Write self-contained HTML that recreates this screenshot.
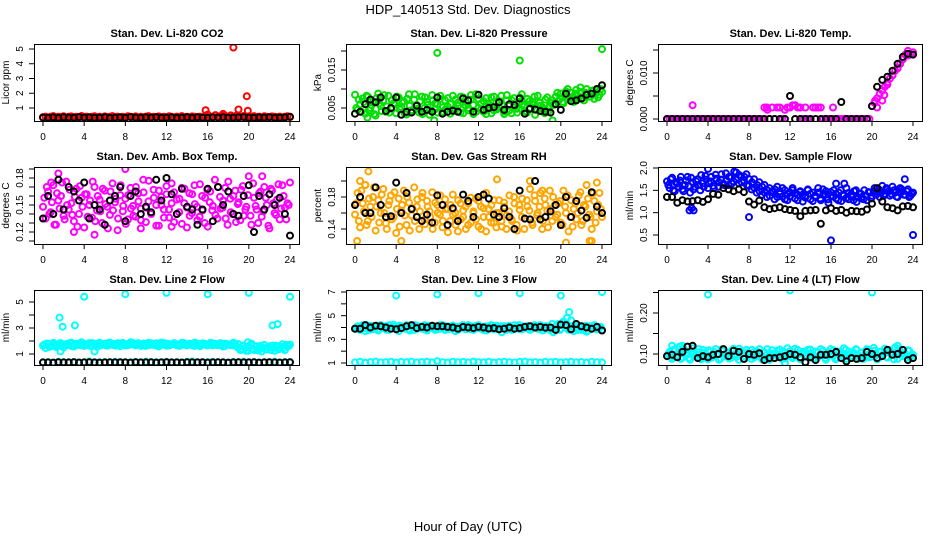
<!DOCTYPE html>
<html><head><meta charset="utf-8"><style>
html,body{margin:0;padding:0;background:#fff}
svg{display:block;font-family:"Liberation Sans",Arial,sans-serif}
</style></head><body>
<svg id="chart" width="936" height="540" viewBox="0 0 936 540">
<text x="468" y="14" text-anchor="middle" font-size="13">HDP_140513  Std. Dev. Diagnostics</text>
<text x="468" y="531" text-anchor="middle" font-size="13">Hour of Day (UTC)</text>
</svg>
<script>
const xTickLabels = [0,4,8,12,16,20,24];

const co2Color = [0.38,0.42,0.35,0.40,0.45,0.37,0.41,0.39,0.44,0.36,0.40,0.43,0.38,0.41,0.35,0.46,0.39,0.42,0.37,0.40,0.44,0.38,0.41,0.36,0.43,0.39,0.40,0.45,0.37,0.42,0.38,0.41,0.36,0.44,0.40,0.39,0.43,0.37,0.41,0.38,0.42,0.45,0.36,0.40,0.39,0.43,0.38,0.41,0.37,0.44,0.40,0.36,0.42,0.39,0.45,0.38,0.41,0.37,0.43,0.40,0.39,0.42,0.36,0.44,0.55,0.41,0.38,0.52,0.43,0.40,0.48,0.45,0.39,0.50,0.42,0.47,0.44,0.40,0.46,0.38,0.43,0.41,0.45,0.39,0.42,0.37,0.44,0.40,0.38,0.43,0.41,0.39,0.42,0.37,0.40,0.44,0.38];
const co2OutT = [15.8,18.5,19.0,19.8,19.9,17.5];
const co2OutV = [0.85,5.1,0.9,1.8,0.82,0.6];
const co2Black = [0.35,0.34,0.36,0.33,0.37,0.35,0.34,0.38,0.35,0.36,0.34,0.35,0.37,0.33,0.35,0.36,0.34,0.38,0.35,0.34,0.36,0.35,0.37,0.34,0.35,0.36,0.33,0.35,0.37,0.34,0.36,0.35,0.34,0.36,0.35,0.37,0.34,0.35,0.36,0.38,0.35,0.34,0.36,0.35,0.37,0.34,0.35,0.36,0.40];

const presColor = [0.0085,0.0045,0.0060,0.0075,0.0035,0.0080,0.0050,0.0065,0.0030,0.0088,0.0055,0.0070,0.0040,0.0082,0.0048,0.0062,0.0036,0.0078,0.0052,0.0068,0.0033,0.0086,0.0044,0.0072,0.0058,0.0038,0.0080,0.0050,0.0066,0.0032,0.0084,0.0046,0.0060,0.0074,0.0040,0.0070,0.0054,0.0035,0.0082,0.0048,0.0064,0.0038,0.0078,0.0056,0.0044,0.0072,0.0034,0.0086,0.0050,0.0062,0.0040,0.0076,0.0054,0.0036,0.0080,0.0046,0.0068,0.0058,0.0034,0.0084,0.0044,0.0070,0.0052,0.0038,0.0078,0.0060,0.0042,0.0074,0.0050,0.0066,0.0032,0.0082,0.0056,0.0046,0.0072,0.0040,0.0064,0.0058,0.0080,0.0068,0.0088,0.0062,0.0094,0.0072,0.0090,0.0066,0.0098,0.0076,0.0092,0.0070,0.0100,0.0080,0.0095,0.0074,0.0098,0.0085,0.0092];
const presColor2 = [0.0050,0.0072,0.0040,0.0066,0.0082,0.0044,0.0058,0.0034,0.0076,0.0062,0.0042,0.0084,0.0054,0.0038,0.0070,0.0060,0.0080,0.0046,0.0064,0.0036,0.0074,0.0056,0.0040,0.0086,0.0048,0.0068,0.0034,0.0078,0.0058,0.0044,0.0070,0.0062,0.0038,0.0082,0.0052,0.0046,0.0076,0.0060,0.0042,0.0072,0.0056,0.0080,0.0036,0.0066,0.0050,0.0084,0.0058,0.0040,0.0074,0.0046,0.0068,0.0034,0.0060,0.0078,0.0044,0.0064,0.0052,0.0082,0.0040,0.0070,0.0056,0.0036,0.0076,0.0048,0.0066,0.0086,0.0054,0.0038,0.0068,0.0060,0.0080,0.0044,0.0064,0.0052,0.0036,0.0078,0.0056,0.0070,0.0062,0.0090,0.0074,0.0066,0.0084,0.0100,0.0078,0.0070,0.0088,0.0082,0.0104,0.0076,0.0090,0.0086,0.0080,0.0096,0.0088,0.0078,0.0100];
const presOutT = [8,16,24,7.7,19.2,1.2];
const presOutV = [0.0195,0.0175,0.0205,0.0017,0.0017,0.0025];
const presBlack = [0.0035,0.0040,0.0060,0.0072,0.0065,0.0078,0.0042,0.0050,0.0078,0.0032,0.0040,0.0038,0.0056,0.0040,0.0045,0.0040,0.0078,0.0035,0.0040,0.0043,0.0040,0.0075,0.0070,0.0040,0.0085,0.0045,0.0050,0.0052,0.0065,0.0045,0.0060,0.0058,0.0075,0.0035,0.0048,0.0046,0.0042,0.0040,0.0038,0.0060,0.0045,0.0088,0.0068,0.0070,0.0075,0.0085,0.0088,0.0100,0.0110];

const tempColor = [0,0,0,0,0,0,0,0,0,0,0,0,0,0,0,0,0,0,0,0,0,0,0,0,0,0,0,0,0,0,0,0,0,0,0,0,0,0,0.0025,0.0025,0,0.0025,0,0.0025,0.0025,0,0.0020,0.0025,0.0025,0.0030,0.0030,0.0025,0.0025,0,0.0025,0,0,0.0025,0.0025,0.0025,0.0025,0,0,0,0,0,0,0,0,0,0,0,0,0,0,0,0,0,0,0,0.0028,0.0035,0.0045,0.0055,0.0062,0.0070,0.0080,0.0088,0.0095,0.0105,0.0112,0.0120,0.0130,0.0140,0.0148,0.0140,0.0145];
const tempOutT = [2.5,20.5,21,21.5,22,22.5,23,23.5,20.3,21.2,9.8,16.2];
const tempOutV = [0.003,0.0025,0.0040,0.0075,0.0095,0.0110,0.0130,0.0138,0.004,0.0052,0.0020,0.0025];
const tempBlack = [0,0,0,0,0,0,0,0,0,0,0,0,0,0,0,0,0,0,0,0,0,0,0,0,0.005,0,0,0,0,0,0,0,0,0,0.0037,0,0,0,0,0,0.0028,0.0070,0.0085,0.0092,0.0105,0.0120,0.0135,0.0142,0.0140];

const ambColor = [0.148,0.135,0.165,0.142,0.172,0.128,0.155,0.160,0.138,0.176,0.145,0.152,0.132,0.168,0.140,0.158,0.125,0.162,0.150,0.136,0.170,0.144,0.156,0.130,0.166,0.148,0.139,0.174,0.153,0.122,0.161,0.143,0.157,0.134,0.169,0.149,0.137,0.163,0.146,0.178,0.131,0.154,0.141,0.167,0.150,0.127,0.159,0.145,0.171,0.136,0.152,0.164,0.140,0.157,0.129,0.168,0.147,0.138,0.162,0.151,0.133,0.173,0.144,0.158,0.126,0.165,0.149,0.139,0.170,0.146,0.155,0.135,0.176,0.142,0.160,0.131,0.153,0.167,0.138,0.148,0.182,0.128,0.158,0.145,0.163,0.137,0.170,0.150,0.124,0.166,0.141,0.156,0.134,0.172,0.147,0.152,0.175];
const ambColor2 = [0.158,0.170,0.140,0.153,0.128,0.163,0.146,0.175,0.134,0.150,0.167,0.139,0.159,0.126,0.171,0.148,0.162,0.137,0.155,0.176,0.132,0.160,0.143,0.168,0.151,0.124,0.165,0.144,0.157,0.135,0.172,0.149,0.129,0.161,0.146,0.138,0.170,0.154,0.133,0.164,0.147,0.177,0.140,0.158,0.127,0.166,0.150,0.136,0.162,0.145,0.174,0.131,0.156,0.142,0.169,0.152,0.125,0.163,0.141,0.172,0.148,0.137,0.160,0.130,0.167,0.153,0.144,0.178,0.135,0.159,0.147,0.169,0.128,0.157,0.140,0.166,0.151,0.133,0.171,0.145,0.161,0.138,0.174,0.149,0.130,0.165,0.143,0.158,0.127,0.168,0.152,0.139,0.173,0.146,0.160,0.134,0.150];
const ambOutT = [8.0,1.5,5.0,21.3,9.5,3.0,0.8,12.5];
const ambOutV = [0.19,0.185,0.117,0.182,0.124,0.12,0.175,0.126];
const ambBlack = [0.135,0.160,0.140,0.178,0.145,0.170,0.165,0.155,0.175,0.135,0.150,0.145,0.128,0.155,0.160,0.170,0.132,0.160,0.165,0.140,0.148,0.142,0.178,0.155,0.180,0.162,0.140,0.168,0.148,0.145,0.128,0.145,0.168,0.132,0.170,0.150,0.165,0.140,0.138,0.160,0.172,0.120,0.160,0.145,0.162,0.150,0.158,0.140,0.116];

const rhColor = [0.158,0.185,0.142,0.172,0.195,0.150,0.168,0.180,0.138,0.176,0.160,0.190,0.147,0.170,0.182,0.155,0.135,0.178,0.163,0.188,0.145,0.173,0.157,0.192,0.168,0.140,0.180,0.152,0.175,0.162,0.186,0.148,0.170,0.158,0.142,0.177,0.165,0.150,0.183,0.160,0.137,0.172,0.155,0.168,0.145,0.179,0.162,0.152,0.175,0.140,0.166,0.185,0.155,0.170,0.148,0.160,0.176,0.143,0.168,0.157,0.182,0.150,0.172,0.138,0.164,0.178,0.153,0.168,0.190,0.145,0.175,0.160,0.185,0.150,0.170,0.142,0.165,0.180,0.155,0.172,0.148,0.188,0.160,0.137,0.176,0.165,0.152,0.182,0.145,0.170,0.195,0.158,0.140,0.175,0.162,0.185,0.155];
const rhColor2 = [0.172,0.150,0.188,0.162,0.145,0.178,0.155,0.192,0.168,0.148,0.183,0.160,0.140,0.175,0.152,0.186,0.165,0.143,0.170,0.157,0.180,0.138,0.166,0.150,0.177,0.162,0.185,0.146,0.168,0.155,0.140,0.173,0.160,0.182,0.150,0.165,0.136,0.170,0.158,0.145,0.176,0.152,0.163,0.140,0.172,0.148,0.160,0.178,0.143,0.168,0.155,0.137,0.165,0.148,0.176,0.142,0.160,0.150,0.173,0.140,0.162,0.152,0.180,0.145,0.170,0.155,0.140,0.176,0.163,0.148,0.182,0.157,0.168,0.140,0.178,0.163,0.188,0.150,0.170,0.158,0.175,0.145,0.168,0.182,0.155,0.143,0.172,0.160,0.186,0.150,0.168,0.178,0.155,0.185,0.148,0.170,0.165];
const rhOutT = [0.2,1.3,1.0,18.2,20.5,4.5,13.8,17.0,23.5,22.8,23.0,0.5];
const rhOutV = [0.125,0.212,0.195,0.188,0.123,0.125,0.202,0.200,0.198,0.125,0.125,0.200];
const rhBlack = [0.170,0.180,0.160,0.160,0.192,0.170,0.155,0.156,0.198,0.160,0.185,0.165,0.155,0.150,0.158,0.148,0.182,0.170,0.145,0.166,0.150,0.183,0.175,0.155,0.180,0.183,0.178,0.158,0.155,0.166,0.155,0.140,0.188,0.153,0.152,0.200,0.152,0.155,0.162,0.170,0.145,0.180,0.155,0.175,0.163,0.154,0.186,0.168,0.160];

const flowColor = [1.70,1.55,1.78,1.48,1.65,1.72,1.52,1.62,1.80,1.45,1.68,1.58,1.75,1.50,1.66,1.82,1.55,1.70,1.60,1.85,1.58,1.74,1.65,1.88,1.62,1.78,1.70,1.90,1.66,1.80,1.72,1.86,1.60,1.52,1.75,1.45,1.68,1.40,1.62,1.35,1.55,1.48,1.30,1.58,1.42,1.36,1.50,1.28,1.45,1.55,1.32,1.40,1.48,1.25,1.38,1.52,1.30,1.45,1.35,1.55,1.28,1.42,1.48,1.22,1.38,1.50,1.32,1.45,1.26,1.40,1.55,1.30,1.36,1.48,1.24,1.42,1.35,1.50,1.28,1.45,1.38,1.55,1.48,1.35,1.60,1.42,1.52,1.38,1.58,1.45,1.35,1.55,1.48,1.40,1.52,1.38,1.45];
const flowColor2 = [1.62,1.75,1.50,1.68,1.58,1.80,1.48,1.72,1.60,1.78,1.52,1.70,1.62,1.84,1.58,1.74,1.66,1.80,1.55,1.76,1.68,1.86,1.62,1.72,1.80,1.65,1.92,1.74,1.84,1.68,1.80,1.62,1.75,1.68,1.55,1.62,1.48,1.58,1.45,1.50,1.38,1.46,1.52,1.35,1.48,1.55,1.30,1.42,1.36,1.50,1.44,1.28,1.46,1.40,1.34,1.50,1.42,1.26,1.38,1.45,1.32,1.52,1.40,1.30,1.46,1.36,1.42,1.28,1.50,1.38,1.32,1.44,1.40,1.28,1.50,1.34,1.42,1.30,1.38,1.46,1.32,1.48,1.40,1.52,1.45,1.38,1.55,1.48,1.42,1.50,1.36,1.46,1.52,1.40,1.48,1.35,1.42];
const flowOutT = [2.2,2.6,2.4,8.0,16.0,24.0,16.5,17.3,23.2,4.0];
const flowOutV = [1.05,1.05,1.1,0.9,0.38,0.5,1.65,1.65,1.75,1.98];
const flowBlack = [1.35,1.35,1.22,1.28,1.25,1.26,1.28,1.24,1.30,1.42,1.40,1.55,1.52,1.48,1.52,1.46,1.25,1.18,1.27,1.12,1.08,1.10,1.12,1.08,1.06,1.04,0.92,1.04,1.05,1.06,0.75,1.05,1.10,1.04,1.06,1.00,1.04,1.03,1.02,1.07,1.20,1.55,1.25,1.12,1.10,1.05,1.14,1.15,1.12];

const l2Color = [1.65,1.45,1.78,1.60,1.85,1.55,1.72,1.82,1.50,1.76,1.68,1.88,1.58,1.80,1.70,1.90,1.62,1.75,1.84,1.66,1.78,1.55,1.86,1.72,1.80,1.64,1.88,1.70,1.76,1.82,1.60,1.85,1.74,1.68,1.90,1.78,1.66,1.84,1.72,1.80,1.62,1.86,1.75,1.70,1.82,1.58,1.88,1.74,1.80,1.66,1.76,1.84,1.70,1.62,1.86,1.78,1.72,1.80,1.68,1.88,1.74,1.60,1.82,1.76,1.70,1.85,1.66,1.78,1.72,1.84,1.58,1.80,1.74,1.68,1.86,1.62,1.76,1.40,1.65,1.25,1.55,1.80,1.30,1.60,1.45,1.20,1.70,1.35,1.50,1.65,1.25,1.55,1.40,1.75,1.30,1.60,1.72];
const l2Color2 = [1.72,1.80,1.55,1.68,1.74,1.62,1.82,1.70,1.66,1.78,1.84,1.60,1.74,1.70,1.80,1.66,1.76,1.72,1.62,1.84,1.70,1.78,1.66,1.74,1.68,1.82,1.72,1.78,1.64,1.70,1.80,1.74,1.66,1.78,1.72,1.84,1.70,1.76,1.62,1.80,1.74,1.68,1.82,1.72,1.66,1.78,1.70,1.84,1.64,1.76,1.72,1.80,1.68,1.74,1.70,1.82,1.66,1.76,1.72,1.62,1.80,1.74,1.70,1.78,1.66,1.72,1.82,1.76,1.68,1.70,1.78,1.62,1.74,1.70,1.66,1.80,1.50,1.30,1.60,1.45,1.25,1.70,1.40,1.55,1.28,1.62,1.45,1.35,1.58,1.30,1.50,1.65,1.35,1.55,1.45,1.70,1.60];
const l2Low = [0.35,0.38,0.33,0.40,0.36,0.34,0.39,0.35,0.37,0.42,0.34,0.36,0.38,0.35,0.40,0.33,0.37,0.36,0.39,0.34,0.41,0.35,0.38,0.36,0.40,0.34,0.37,0.35,0.39,0.42,0.36,0.34,0.38,0.40,0.35,0.37,0.33,0.39,0.36,0.41,0.35,0.38,0.34,0.37,0.36,0.40,0.35,0.38,0.36];
const l2OutT = [4,8,12,16,20,24,1.6,1.9,3.1,5.0,22.3,22.8,1.7,19.9];
const l2OutV = [5.4,5.6,5.7,5.6,5.7,5.4,3.8,3.1,3.2,1.2,3.2,3.3,1.2,1.9];
const l2Black = [0.35,0.35,0.34,0.36,0.35,0.35,0.36,0.34,0.35,0.36,0.35,0.34,0.35,0.36,0.35,0.37,0.35,0.34,0.36,0.35,0.35,0.36,0.34,0.35,0.36,0.35,0.35,0.34,0.36,0.35,0.35,0.36,0.34,0.35,0.36,0.35,0.34,0.35,0.36,0.35,0.35,0.36,0.34,0.35,0.36,0.35,0.34,0.35,0.36];

const l3Color = [3.9,4.1,3.8,4.2,3.7,4.0,4.15,3.85,4.05,3.75,4.2,3.95,4.1,3.8,4.0,4.25,3.9,3.7,4.1,3.95,4.2,3.85,4.05,3.8,4.15,4.0,3.9,4.2,3.75,4.1,3.95,4.05,3.85,4.2,4.0,3.8,4.1,3.9,4.15,3.7,4.05,3.95,4.2,3.85,4.0,4.1,3.8,3.95,4.2,3.9,4.05,3.75,4.1,4.0,3.85,4.15,3.95,3.6,4.1,3.9,4.05,3.8,4.2,4.0,3.85,4.1,3.95,4.15,3.8,4.0,4.05,3.9,4.2,3.75,4.1,3.95,3.85,3.6,4.1,4.3,3.9,4.5,4.2,3.8,4.1,3.7,3.95,4.15,3.8,4.0,3.65,4.1,3.9,4.2,3.85,4.0,3.8];
const l3Color2 = [4.0,3.85,4.1,3.95,4.2,3.8,4.05,3.9,4.15,3.85,4.0,4.1,3.8,4.2,3.95,4.05,3.85,4.15,4.0,3.9,4.1,3.75,4.05,4.2,3.9,4.0,4.1,3.85,4.15,3.95,4.0,3.8,4.1,3.9,4.2,4.05,3.85,4.0,4.15,3.95,3.8,4.1,4.0,3.9,4.2,3.85,4.05,4.15,3.95,4.0,3.8,4.1,3.9,4.2,4.05,3.85,4.0,4.1,3.95,3.8,4.15,4.0,3.9,4.05,4.2,3.85,4.0,3.95,4.1,3.9,4.2,4.05,3.85,4.0,3.95,4.1,3.8,4.3,3.9,4.1,3.8,4.4,4.0,4.2,3.85,4.0,4.1,3.8,4.05,3.9,4.15,3.75,4.0,4.1,3.9,3.85,4.05];
const l3Low = [1.05,1.10,1.02,1.08,1.12,1.04,1.07,1.10,1.03,1.09,1.06,1.12,1.04,1.08,1.11,1.05,1.15,1.07,1.03,1.10,1.06,1.09,1.04,1.12,1.07,1.05,1.10,1.03,1.08,1.11,1.06,1.04,1.09,1.12,1.05,1.08,1.03,1.10,1.06,1.09,1.04,1.07,1.11,1.05,1.08,1.03,1.10,1.06,1.05];
const l3OutT = [4,8,12,16,20,24,20.8,20.6,21.0];
const l3OutV = [6.7,6.8,6.9,6.9,6.7,7.0,5.3,4.8,4.6];
const l3Black = [3.9,3.9,4.2,4.0,4.15,4.1,4.0,3.9,3.85,3.95,4.1,4.2,3.95,4.05,4.0,4.15,4.1,4.1,4.05,4.0,3.9,4.05,4.0,3.95,4.05,4.0,3.92,3.95,3.85,3.9,4.0,3.9,3.95,4.05,4.1,4.0,4.05,3.98,4.0,3.8,4.25,4.2,3.85,4.3,4.1,4.0,3.9,4.05,3.75];

const l4Color = [0.095,0.105,0.088,0.112,0.098,0.118,0.092,0.108,0.100,0.086,0.114,0.096,0.104,0.090,0.110,0.099,0.087,0.106,0.094,0.112,0.100,0.089,0.108,0.097,0.103,0.091,0.113,0.099,0.086,0.107,0.095,0.110,0.101,0.088,0.105,0.097,0.112,0.092,0.104,0.098,0.086,0.109,0.100,0.094,0.111,0.088,0.103,0.096,0.107,0.090,0.113,0.099,0.087,0.105,0.095,0.110,0.101,0.089,0.106,0.093,0.112,0.098,0.086,0.104,0.096,0.109,0.091,0.103,0.099,0.114,0.088,0.106,0.095,0.101,0.110,0.089,0.104,0.097,0.112,0.092,0.100,0.108,0.087,0.105,0.096,0.113,0.091,0.103,0.099,0.116,0.088,0.106,0.095,0.101,0.109,0.090,0.098];
const l4Color2 = [0.100,0.092,0.110,0.096,0.104,0.088,0.114,0.098,0.090,0.106,0.101,0.094,0.112,0.087,0.103,0.097,0.109,0.091,0.105,0.099,0.086,0.111,0.095,0.102,0.089,0.108,0.098,0.093,0.113,0.100,0.088,0.104,0.096,0.110,0.092,0.106,0.099,0.087,0.103,0.112,0.095,0.101,0.090,0.108,0.097,0.105,0.089,0.114,0.098,0.094,0.102,0.110,0.088,0.100,0.106,0.093,0.111,0.097,0.089,0.104,0.099,0.108,0.091,0.102,0.112,0.095,0.087,0.106,0.100,0.093,0.110,0.098,0.090,0.104,0.112,0.096,0.102,0.088,0.108,0.099,0.094,0.115,0.097,0.090,0.106,0.101,0.093,0.110,0.098,0.087,0.104,0.112,0.096,0.100,0.091,0.108,0.095];
const l4OutT = [4,12,20,0.5,1.5,11.5,22.5];
const l4OutV = [0.245,0.255,0.25,0.12,0.12,0.078,0.12];
const l4Black = [0.095,0.098,0.092,0.105,0.118,0.120,0.090,0.095,0.092,0.098,0.100,0.112,0.095,0.108,0.105,0.088,0.100,0.098,0.102,0.085,0.090,0.090,0.092,0.095,0.100,0.098,0.092,0.080,0.092,0.085,0.098,0.098,0.100,0.105,0.090,0.082,0.090,0.088,0.090,0.105,0.100,0.090,0.095,0.110,0.098,0.100,0.110,0.085,0.090];

const NS='http://www.w3.org/2000/svg';
const svg=document.getElementById('chart');
function mk(tag,attrs,parent){const e=document.createElementNS(NS,tag);for(const k in attrs)e.setAttribute(k,attrs[k]);(parent||svg).appendChild(e);return e;}

const panels=[
 {id:'co2',title:'Stan. Dev. Li-820 CO2',ylab:'Licor ppm',box:[34,44,300,121],ref:[1,108],ppu:14.75,ticks:[1,2,3,4,5],labels:['1','2','3','4','5'],color:'#ff0000',main:[co2Color],outT:co2OutT,outV:co2OutV,black:co2Black},
 {id:'pressure',title:'Stan. Dev. Li-820 Pressure',ylab:'kPa',box:[346,44,612,121],ref:[0.005,108],ppu:3800,ticks:[0.005,0.010,0.015,0.020],labels:['0.005','','0.015',''],color:'#00e000',main:[presColor,presColor2],outT:presOutT,outV:presOutV,black:presBlack},
 {id:'temp',title:'Stan. Dev. Li-820 Temp.',ylab:'degrees C',box:[658,44,923,121],ref:[0,119],ppu:4600,ticks:[0,0.005,0.010,0.015],labels:['0.000','','0.010',''],color:'#ff00ff',main:[tempColor],outT:tempOutT,outV:tempOutV,black:tempBlack},
 {id:'amb-temp',title:'Stan. Dev. Amb. Box Temp.',ylab:'degrees C',box:[34,167,300,244],ref:[0.12,232],ppu:900,ticks:[0.11,0.12,0.13,0.14,0.15,0.16,0.17,0.18,0.19],labels:['','0.12','','','0.15','','','0.18',''],color:'#ff00ff',main:[ambColor,ambColor2],outT:ambOutT,outV:ambOutV,black:ambBlack},
 {id:'rh',title:'Stan. Dev. Gas Stream RH',ylab:'percent',box:[346,167,612,244],ref:[0.14,229],ppu:800,ticks:[0.14,0.16,0.18,0.20],labels:['0.14','','0.18',''],color:'#ffa500',main:[rhColor,rhColor2],outT:rhOutT,outV:rhOutV,black:rhBlack},
 {id:'sample-flow',title:'Stan. Dev. Sample Flow',ylab:'ml/min',box:[658,167,923,244],ref:[2.0,168],ppu:44.67,ticks:[0.5,1.0,1.5,2.0],labels:['0.5','1.0','1.5','2.0'],color:'#0000ff',main:[flowColor,flowColor2],outT:flowOutT,outV:flowOutV,black:flowBlack},
 {id:'line2',title:'Stan. Dev. Line 2 Flow',ylab:'ml/min',box:[34,290,300,365],ref:[1,354],ppu:13,ticks:[1,2,3,4,5],labels:['1','','3','','5'],color:'#00ffff',main:[l2Color,l2Color2,l2Low],outT:l2OutT,outV:l2OutV,black:l2Black},
 {id:'line3',title:'Stan. Dev. Line 3 Flow',ylab:'ml/min',box:[346,290,612,365],ref:[1,363],ppu:11.83,ticks:[1,2,3,4,5,6,7],labels:['1','','3','','5','','7'],color:'#00ffff',main:[l3Color,l3Color2,l3Low],outT:l3OutT,outV:l3OutV,black:l3Black},
 {id:'line4',title:'Stan. Dev. Line 4 (LT) Flow',ylab:'ml/min',box:[658,290,923,365],ref:[0.10,354],ppu:410,ticks:[0.10,0.15,0.20,0.25],labels:['0.10','','0.20',''],color:'#00ffff',main:[l4Color,l4Color2],outT:l4OutT,outV:l4OutV,black:l4Black}
];

panels.forEach(p=>{
  const [L,T,R,B]=p.box;
  const g=mk('g',{});
  
  
  const xs=t=>L+9+(t/24)*(R-L-19);
  const ys=v=>p.ref[1]-(v-p.ref[0])*p.ppu;
  const clip='clip-'+p.id;
  const cp=mk('clipPath',{id:clip},g);
  mk('rect',{x:L,y:T,width:R-L,height:B-T},cp);
  const pts=mk('g',{'clip-path':'url(#'+clip+')'},g);
  
  
  function dot(t,v,col,w,name){
    const c=mk('circle',{cx:xs(t).toFixed(1),cy:ys(v).toFixed(1),r:3,fill:'none',stroke:col,'stroke-width':w},pts);
    
    
  }
  p.main.forEach((arr,k)=>arr.forEach((v,i)=>dot((i+(k%2)*0.5)*24/(arr.length-1+(k%2)),v,p.color,2,p.id+'-point')));
  p.outT.forEach((t,i)=>dot(t,p.outV[i],p.color,2,p.id+'-outlier'));
  p.black.forEach((v,i)=>dot(i*24/(p.black.length-1),v,'#000',2,p.id+'-calibration-point'));
  const box=mk('rect',{x:L+0.5,y:T+0.5,width:R-L-1,height:B-T,fill:'none',stroke:'#000','stroke-width':1},g);
  
  
  const tt=mk('text',{x:(L+R)/2,y:T-7,'text-anchor':'middle','font-size':11,'font-weight':'bold'},g);
  tt.textContent=p.title;
  
  
  xTickLabels.forEach(t=>{
    const x=xs(t);
    mk('line',{x1:x,y1:B,x2:x,y2:B+5,stroke:'#000'},g);
    const lb=mk('text',{x:x,y:B+19,'text-anchor':'middle','font-size':10},g);
    lb.textContent=t;
    
    
  });
  p.ticks.forEach((v,i)=>{
    const y=ys(v);
    mk('line',{x1:L-5,y1:y,x2:L,y2:y,stroke:'#000'},g);
    if(p.labels[i]){
      const lb=mk('text',{x:L-11,y:y,'text-anchor':'middle','font-size':10,transform:'rotate(-90 '+(L-11)+' '+y+')'},g);
      lb.textContent=p.labels[i];
      
      
    }
  });
  const yc=(T+B)/2;
  const yl=mk('text',{x:L-25,y:yc,'text-anchor':'middle','font-size':10,transform:'rotate(-90 '+(L-25)+' '+yc+')'},g);
  yl.textContent=p.ylab;
  
  
});
</script>
</body></html>
